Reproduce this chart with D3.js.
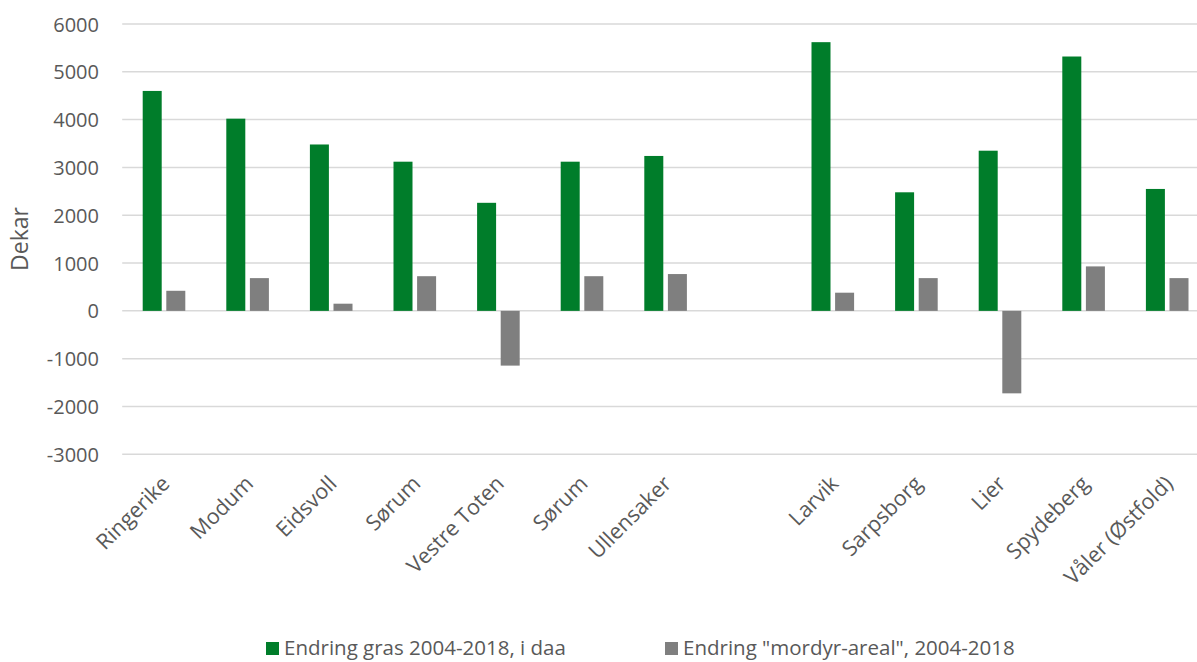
<!DOCTYPE html>
<html>
<head>
<meta charset="utf-8">
<script src="https://cdn.jsdelivr.net/npm/d3@7"></script>
<style>
  html, body { margin: 0; padding: 0; background: #ffffff; }
  svg { display: block; font-family: "Open Sans", "Noto Sans", sans-serif; }
</style>
</head>
<body>
<svg id="chart" width="1197" height="662"></svg>
<script>
// Municipalities (an empty slot separates the two groups)
const categories = ["Ringerike", "Modum", "Eidsvoll", "Sørum", "Vestre Toten", "Sørum", "Ullensaker", "",
                    "Larvik", "Sarpsborg", "Lier", "Spydeberg", "Våler (Østfold)"];
// Change in grassland area 2004-2018 (daa)
const grasValues = [4600, 4020, 3480, 3120, 2260, 3120, 3240, null, 5620, 2480, 3350, 5320, 2550];
// Change in "mordyr" area 2004-2018 (daa)
const mordyrValues = [420, 685, 150, 725, -1145, 725, 770, null, 380, 685, -1725, 930, 685];
const seriesNames = ["Endring gras 2004-2018, i daa", "Endring \"mordyr-areal\", 2004-2018"];
const seriesColors = ["#007d2a", "#7f7f7f"];
const yTicks = [-3000, -2000, -1000, 0, 1000, 2000, 3000, 4000, 5000, 6000];

const svg = d3.select("#chart");
const plotLeft = 122.2, slot = 83.6;
const plotTop = 24, plotBottom = 454.3;
const textColor = "#595959";

const x = d3.scaleBand()
  .domain(d3.range(categories.length))
  .range([plotLeft, plotLeft + slot * categories.length])
  .paddingInner(0).paddingOuter(0);

const xSeries = d3.scaleBand()
  .domain([0, 1])
  .range([20.5, 63.1])
  .paddingInner(0.195).paddingOuter(0);

const y = d3.scaleLinear().domain([-3000, 6000]).range([plotBottom, plotTop]);

// Horizontal gridlines
svg.append("g")
  .selectAll("line")
  .data(yTicks)
  .join("line")
  .attr("x1", plotLeft).attr("x2", plotLeft + slot * categories.length)
  .attr("y1", d => y(d)).attr("y2", d => y(d))
  .attr("stroke", "#d9d9d9").attr("stroke-width", 1.5);

// Y axis tick labels (plain hyphen for negatives)
const yAxis = d3.axisLeft(y).tickValues(yTicks).tickSize(0).tickPadding(0).tickFormat(d => String(d));
const yg = svg.append("g").attr("transform", "translate(99,0)").call(yAxis);
yg.select(".domain").remove();
yg.selectAll("text")
  .attr("fill", textColor)
  .style("font-size", "20px")
  .style("font-family", "'Open Sans', sans-serif")
  .attr("dy", "0.35em");

// Y axis title
svg.append("text")
  .attr("transform", "translate(28,239) rotate(-90)")
  .attr("text-anchor", "middle")
  .attr("fill", textColor)
  .style("font-size", "23px")
  .text("Dekar");

// Bars
const series = [grasValues, mordyrValues];
series.forEach((vals, si) => {
  svg.append("g")
    .selectAll("rect")
    .data(vals.map((v, i) => ({ v, i })).filter(d => d.v !== null))
    .join("rect")
    .attr("x", d => x(d.i) + xSeries(si))
    .attr("width", xSeries.bandwidth())
    .attr("y", d => y(Math.max(0, d.v)))
    .attr("height", d => Math.abs(y(d.v) - y(0)))
    .attr("fill", seriesColors[si]);
});

// Category labels, rotated
svg.append("g")
  .selectAll("text")
  .data(categories.map((c, i) => ({ c, i })).filter(d => d.c !== ""))
  .join("text")
  .attr("transform", d => `translate(${x(d.i) + x.bandwidth() / 2 + 7},485) rotate(-45)`)
  .attr("text-anchor", "end")
  .attr("fill", textColor)
  .style("font-size", "21.5px")
  .text(d => d.c);

// Legend
const legendItems = [
  { name: seriesNames[0], color: seriesColors[0], x: 266 },
  { name: seriesNames[1], color: seriesColors[1], x: 665 }
];
const lg = svg.append("g");
legendItems.forEach(item => {
  lg.append("rect")
    .attr("x", item.x).attr("y", 642)
    .attr("width", 13).attr("height", 13)
    .attr("fill", item.color);
  lg.append("text")
    .attr("x", item.x + 18).attr("y", 655)
    .attr("fill", textColor)
    .style("font-size", "20.5px")
    .text(item.name);
});
</script>
</body>
</html>
